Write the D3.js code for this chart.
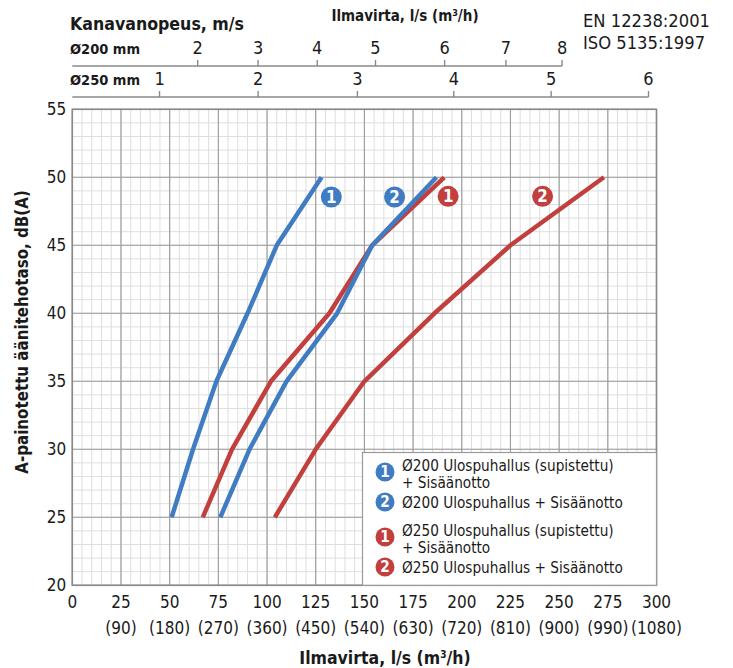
<!DOCTYPE html>
<html><head><meta charset="utf-8">
<script src="https://cdn.jsdelivr.net/npm/d3@7"></script>
<style>
body{margin:0;background:#fff;}
svg{display:block;}
text{font-family:"DejaVu Sans Condensed","DejaVu Sans",sans-serif;fill:#1a1a1a;}
</style></head>
<body>
<svg id="c" width="733" height="668"></svg>
<script>
// ---- data ----
const dbLevels = [25, 30, 35, 40, 45, 50];
const blue1 = [51, 62, 74, 90, 105, 128];   // Ø200 Ulospuhallus (supistettu) + Sisäänotto
const blue2 = [76, 91, 110, 136, 154, 187]; // Ø200 Ulospuhallus + Sisäänotto
const red1  = [67, 82, 102, 132, 154, 191]; // Ø250 Ulospuhallus (supistettu) + Sisäänotto
const red2  = [104, 125, 150, 186, 225, 273]; // Ø250 Ulospuhallus + Sisäänotto

const xTicks = [0,25,50,75,100,125,150,175,200,225,250,275,300];
const xTicksM3h = ["","(90)","(180)","(270)","(360)","(450)","(540)","(630)","(720)","(810)","(900)","(990)","(1080)"];
const yTicks = [20,25,30,35,40,45,50,55];

// duct velocity axes: velocity label and corresponding airflow (l/s)
const v200Labels = [2,3,4,5,6,7,8];
const v200Flow   = [64.4,95.4,125.8,155.7,191.2,222.7,251.5];
const v250Labels = [1,2,3,4,5,6];
const v250Flow   = [44.8,95.4,146.4,195.9,245.9,295.9];

const seriesNames = ["Ø200 Ulospuhallus (supistettu)|+ Sisäänotto","Ø200 Ulospuhallus + Sisäänotto","Ø250 Ulospuhallus (supistettu)|+ Sisäänotto","Ø250 Ulospuhallus + Sisäänotto"];
const seriesBadges = ["1","2","1","2"];
// curve label anchors (airflow l/s, dB)
const badgeFlow = [133, 165.5, 193, 241.5];
const badgeDb   = [48.55, 48.55, 48.6, 48.6];

// ---- drawing ----
const BLUE = "#3f7cc1", RED = "#c1403e";
const svg = d3.select("#c");
const x = d3.scaleLinear().domain([0,300]).range([72.3,656.5]);
const y = d3.scaleLinear().domain([20,55]).range([585.3,109.3]);

const grid = svg.append("g");
grid.selectAll(".mx").data(d3.range(0,301,5)).join("line")
  .attr("x1",d=>x(d)).attr("x2",d=>x(d)).attr("y1",y(20)).attr("y2",y(55))
  .attr("stroke","#dedede").attr("stroke-width",1);
grid.selectAll(".my").data(d3.range(20,56,1)).join("line")
  .attr("y1",d=>y(d)).attr("y2",d=>y(d)).attr("x1",x(0)).attr("x2",x(300))
  .attr("stroke","#dedede").attr("stroke-width",1);
grid.selectAll(".Mx").data(xTicks).join("line")
  .attr("x1",d=>x(d)).attr("x2",d=>x(d)).attr("y1",y(20)).attr("y2",y(55))
  .attr("stroke","#9a9a9a").attr("stroke-width",1.1);
grid.selectAll(".My").data(yTicks).join("line")
  .attr("y1",d=>y(d)).attr("y2",d=>y(d)).attr("x1",x(0)).attr("x2",x(300))
  .attr("stroke","#9a9a9a").attr("stroke-width",1.1);
svg.append("rect").attr("x",x(0)).attr("y",y(55)).attr("width",x(300)-x(0)).attr("height",y(20)-y(55))
  .attr("fill","none").attr("stroke","#8a8a8a").attr("stroke-width",1.6);

svg.selectAll(".yl").data(yTicks).join("text")
  .attr("x",x(0)-6).attr("y",d=>y(d)+6).attr("text-anchor","end")
  .attr("font-size",17).text(d=>d);
svg.selectAll(".xl").data(xTicks).join("text")
  .attr("x",d=>x(d)).attr("y",608).attr("text-anchor","middle")
  .attr("font-size",17).text(d=>d);
svg.selectAll(".xl2").data(xTicks).join("text")
  .attr("x",d=>x(d)).attr("y",634).attr("text-anchor","middle")
  .attr("font-size",17).text((d,i)=>xTicksM3h[i]);
svg.append("text").attr("x",385).attr("y",664).attr("text-anchor","middle")
  .attr("font-size",17.5).attr("font-weight","bold").html("Ilmavirta, l/s (m<tspan font-size='10' dy='-6'>3</tspan><tspan dy='6'>/h)</tspan>");
svg.append("text").attr("transform","translate(28,332) rotate(-90)").attr("text-anchor","middle")
  .attr("font-size",16.8).attr("font-weight","bold").text("A-painotettu äänitehotaso, dB(A)");

function velAxis(yLine, endFlow, labels, flows, name){
  const g = svg.append("g");
  g.append("line").attr("x1",x(0)).attr("x2",x(endFlow)).attr("y1",yLine).attr("y2",yLine)
    .attr("stroke","#8a8a8a").attr("stroke-width",1.6);
  g.selectAll("line.t").data(flows).join("line").attr("class","t")
    .attr("x1",d=>x(d)).attr("x2",d=>x(d)).attr("y1",yLine).attr("y2",yLine-6)
    .attr("stroke","#8a8a8a").attr("stroke-width",1.4);
  g.selectAll("text.t").data(flows).join("text").attr("class","t")
    .attr("x",d=>x(d)).attr("y",yLine-12).attr("text-anchor","middle").attr("font-size",18)
    .text((d,i)=>labels[i]);
  g.append("text").attr("x",70).attr("y",yLine-12).attr("font-size",14.5).attr("font-weight","bold").text(name);
}
velAxis(66, v200Flow[v200Flow.length-1], v200Labels, v200Flow, "Ø200 mm");
velAxis(97, v250Flow[v250Flow.length-1], v250Labels, v250Flow, "Ø250 mm");
svg.append("text").attr("x",70).attr("y",30).attr("font-size",17.6).attr("font-weight","bold").text("Kanavanopeus, m/s");
svg.append("text").attr("x",405).attr("y",21).attr("text-anchor","middle")
  .attr("font-size",15).attr("font-weight","bold").html("Ilmavirta, l/s (m<tspan font-size='9' dy='-5'>3</tspan><tspan dy='5'>/h)</tspan>");
svg.append("text").attr("x",583).attr("y",27).attr("font-size",18.2).attr("font-family","Liberation Sans, Arial, sans-serif").text("EN 12238:2001");
svg.append("text").attr("x",583).attr("y",49).attr("font-size",18.2).attr("font-family","Liberation Sans, Arial, sans-serif").text("ISO 5135:1997");

const series = [
  {vals: blue1, color: BLUE},
  {vals: blue2, color: BLUE},
  {vals: red1, color: RED},
  {vals: red2, color: RED}
];
const line = d3.line().x(d=>x(d[0])).y(d=>y(d[1]));
[3,2,0,1].forEach(i=>{
  const s = series[i];
  svg.append("path").datum(s.vals.map((v,j)=>[v,dbLevels[j]]))
    .attr("d",line).attr("fill","none").attr("stroke",s.color)
    .attr("stroke-width",4.5).attr("stroke-linejoin","round").attr("stroke-linecap","butt");
});

function badge(cx, cy, color, label, r){
  svg.append("circle").attr("cx",cx).attr("cy",cy).attr("r",r).attr("fill",color);
  svg.append("text").attr("x",cx).attr("y",cy+r*0.55).attr("text-anchor","middle")
    .attr("font-size",r*1.6).attr("font-weight","bold").style("fill","#fff").text(label);
}
series.forEach((s,i)=> badge(x(badgeFlow[i]), y(badgeDb[i]), s.color, seriesBadges[i], 10.5));

const lg = svg.append("g");
lg.append("rect").attr("x",362.5).attr("y",452.5).attr("width",x(300)-362.5).attr("height",y(20)-452.5)
  .attr("fill","#fff").attr("stroke","#9a9a9a").attr("stroke-width",1.2);
const legY = [472, 502, 537, 567];
seriesNames.forEach((n,i)=>{
  const parts = n.split("|");
  badge(385, legY[i], series[i].color, seriesBadges[i], 9.5);
  if(parts.length===2){
    lg.append("text").attr("x",402).attr("y",legY[i]-1).attr("font-size",15.2).text(parts[0]);
    lg.append("text").attr("x",402).attr("y",legY[i]+15.5).attr("font-size",15.2).text(parts[1]);
  } else {
    lg.append("text").attr("x",402).attr("y",legY[i]+5.5).attr("font-size",15.2).text(parts[0]);
  }
});
</script>
</body></html>
